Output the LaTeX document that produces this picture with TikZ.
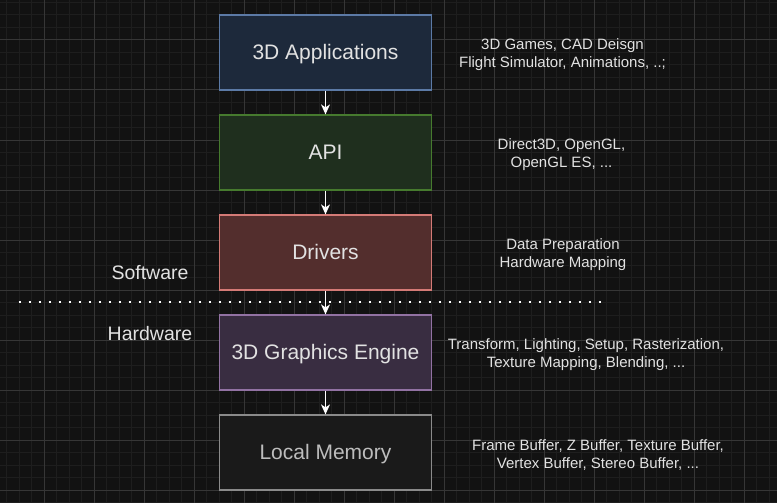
\documentclass[tikz,border=0pt]{standalone}
\usepackage{fontspec}
\setmainfont{Liberation Sans}
\usetikzlibrary{arrows.meta}
\definecolor{bg}{HTML}{121212}
\definecolor{gridminor}{HTML}{1E1E1E}
\definecolor{gridmajor}{HTML}{363636}
\definecolor{txt}{HTML}{E2E2E2}
\definecolor{bluefill}{HTML}{1D293B}
\definecolor{bluedraw}{HTML}{5C7AA6}
\definecolor{greenfill}{HTML}{1F2F1E}
\definecolor{greendraw}{HTML}{467A2E}
\definecolor{redfill}{HTML}{532E2D}
\definecolor{reddraw}{HTML}{D47A76}
\definecolor{purplefill}{HTML}{392D41}
\definecolor{purpledraw}{HTML}{9272A3}
\definecolor{grayfill}{HTML}{1A1A1A}
\definecolor{graydraw}{HTML}{8A8A8A}
\definecolor{graytxt}{HTML}{BDBDBD}
\tikzset{
  layerbox/.style={draw, line width=1.25pt, minimum width=212.5pt, minimum height=75pt,
    inner sep=0pt, text height=15pt, text depth=1.5pt, text=txt, font=\fontsize{21}{25}\selectfont},
  sidenote/.style={text=txt, align=center, inner sep=0pt, font=\fontsize{15}{18}\selectfont},
  sidelabel/.style={text=txt, inner sep=0pt, font=\fontsize{19.5}{23}\selectfont},
  flow/.style={draw=white, line width=1.25pt, -{Stealth[length=10pt,width=9pt,inset=3pt]}},
}
\begin{document}
\begin{tikzpicture}[x=1pt,y=-1pt]
\fill[bg] (0,0) rectangle (777,503);
\useasboundingbox (0,0) rectangle (777,503);
% grid
\foreach \i in {0,...,61} {
  \draw[gridminor, line width=1pt] ({6.5+12.5*\i},0) -- ({6.5+12.5*\i},503);
}
\foreach \i in {0,...,40} {
  \draw[gridminor, line width=1pt] (0,{2.5+12.5*\i}) -- (777,{2.5+12.5*\i});
}
\foreach \i in {0,...,15} {
  \draw[gridmajor, line width=1pt] ({44+50*\i},0) -- ({44+50*\i},503);
}
\foreach \i in {0,...,9} {
  \draw[gridmajor, line width=1pt] (0,{40+50*\i}) -- (777,{40+50*\i});
}
% boxes
\node[layerbox, fill=bluefill, draw=bluedraw] (app) at (325.5,52.5) {3D Applications};
\node[layerbox, fill=greenfill, draw=greendraw] (api) at (325.5,152.5) {API};
\node[layerbox, fill=redfill, draw=reddraw] (drv) at (325.5,252.5) {Drivers};
\node[layerbox, fill=purplefill, draw=purpledraw] (eng) at (325.5,352.5) {3D Graphics Engine};
\node[layerbox, fill=grayfill, draw=graydraw, text=graytxt] (mem) at (325.5,452.5) {Local Memory};
% separator
\coordinate (sepL) at (18.5,301.5);
\coordinate (sepR) at (601,301.5);
\draw[white, line width=2pt, dash pattern=on 2pt off 8pt] (sepL) -- (sepR);
% arrows
\draw[flow] (app) -- (api);
\draw[flow] (api) -- (drv);
\draw[flow] (drv) -- (eng);
\draw[flow] (eng) -- (mem);
% labels
\node[sidelabel] (sw) at (150,272.5) {Software};
\node[sidelabel] (hw) at (150,334) {Hardware};
\node[sidenote] (n1) at (562.5,55) {3D Games, CAD Deisgn\\Flight Simulator, Animations, ..;};
\node[sidenote] (n2) at (561.5,155) {Direct3D, OpenGL,\\OpenGL ES, ...};
\node[sidenote] (n3) at (563,255) {Data Preparation\\Hardware Mapping};
\node[sidenote] (n4) at (586,355) {Transform, Lighting, Setup, Rasterization,\\Texture Mapping, Blending, ...};
\node[sidenote] (n5) at (598,455) {Frame Buffer, Z Buffer, Texture Buffer,\\Vertex Buffer, Stereo Buffer, ...};
\end{tikzpicture}
\end{document}
